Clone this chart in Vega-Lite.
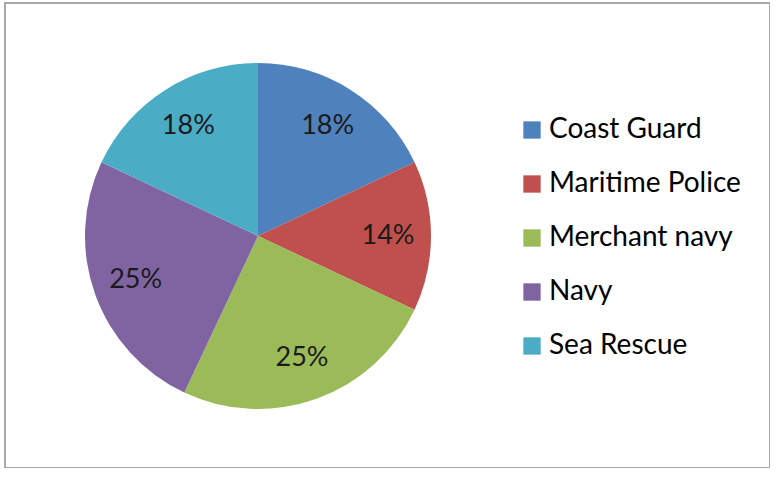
{
  "$schema": "https://vega.github.io/schema/vega-lite/v6.json",
  "width": 765,
  "height": 465,
  "autosize": "none",
  "padding": {"left": 5, "top": 3, "right": 0, "bottom": 0},
  "background": "white",
  "config": {
    "view": {"stroke": "#a9a9a9", "strokeWidth": 2},
    "font": "Lato"
  },
  "data": {
    "values": [
      {"category": "Coast Guard", "share": 18, "label": "18%", "order": 1},
      {"category": "Maritime Police", "share": 14, "label": "14%", "order": 2},
      {"category": "Merchant navy", "share": 25, "label": "25%", "order": 3},
      {"category": "Navy", "share": 25, "label": "25%", "order": 4},
      {"category": "Sea Rescue", "share": 18, "label": "18%", "order": 5}
    ]
  },
  "encoding": {
    "theta": {"field": "share", "type": "quantitative", "stack": true},
    "order": {"field": "order", "type": "quantitative"},
    "x": {"value": 253},
    "y": {"value": 233}
  },
  "layer": [
    {
      "mark": {"type": "arc", "outerRadius": 173},
      "encoding": {
        "color": {
          "field": "category",
          "type": "nominal",
          "sort": ["Coast Guard", "Maritime Police", "Merchant navy", "Navy", "Sea Rescue"],
          "scale": {
            "domain": ["Coast Guard", "Maritime Police", "Merchant navy", "Navy", "Sea Rescue"],
            "range": ["#4F81BD", "#C0504D", "#9BBB59", "#8064A2", "#4BACC6"]
          },
          "legend": {
            "title": null,
            "orient": "none",
            "legendX": 513,
            "legendY": 113,
            "padding": 0,
            "symbolType": "square",
            "symbolSize": 300,
            "symbolStrokeWidth": 0,
            "symbolOpacity": 1,
            "labelFontSize": 28,
            "labelFont": "Lato",
            "labelColor": "#000000",
            "labelOffset": 3,
            "rowPadding": 26,
            "labelLimit": 300
          }
        }
      }
    },
    {
      "mark": {"type": "text", "radius": 130, "fontSize": 27, "font": "Lato", "color": "#1a1a1a"},
      "encoding": {
        "text": {"field": "label", "type": "nominal"}
      }
    }
  ]
}
